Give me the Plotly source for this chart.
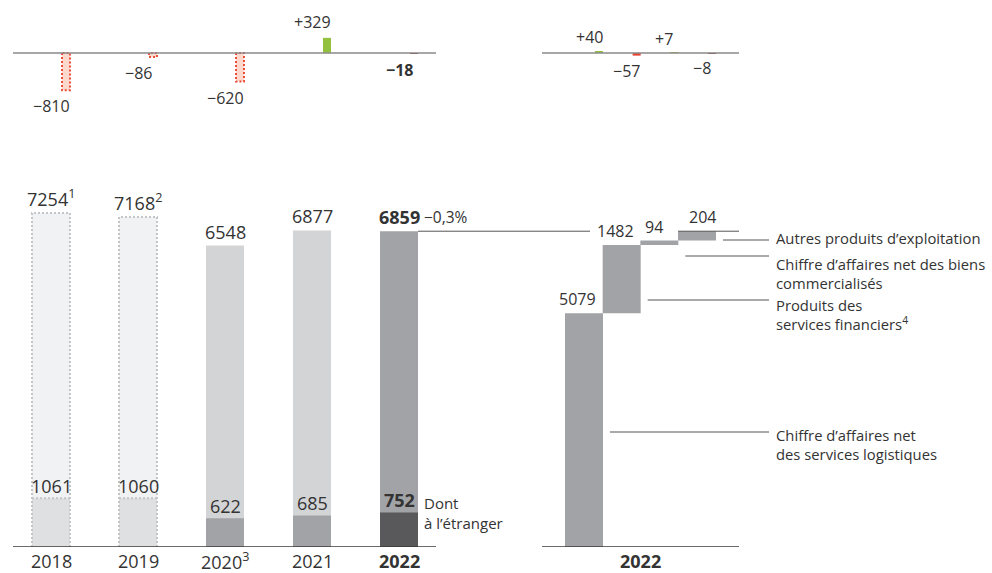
import plotly.graph_objects as go

# ---- data (CHF millions) -------------------------------------------------
years = ["2018", "2019", "2020", "2021", "2022"]
year_labels = ["2018", "2019", "2020<sup>3</sup>", "2021", "<b>2022</b>"]
revenue = [7254, 7168, 6548, 6877, 6859]
revenue_notes = ["1", "2", "", "", ""]
abroad = [1061, 1060, 622, 685, 752]
revenue_change = [-810, -86, -620, 329, -18]
change_pct_latest = "−0,3%"

components = [
    "Chiffre d’affaires net<br>des services logistiques",
    "Produits des<br>services financiers<sup>4</sup>",
    "Chiffre d’affaires net des biens<br>commercialisés",
    "Autres produits d’exploitation",
]
component_values = [5079, 1482, 94, 204]
component_change = [40, -57, 7, -8]

# ---- styling ------------------------------------------------------------
W, H = 992, 573
FONT = "Open Sans"
TXT = "#333333"
SCALE = 0.04604          # pixels per CHF million (shared by every panel)
STEP_L = 87.0            # pixel distance between yearly bars
STEP_R = 37.67           # pixel distance between component bars
BAR_L = 38 / STEP_L
BAR_R = 38 / STEP_R
DELTA_W_L = 8 / STEP_L
DELTA_W_R = 8 / STEP_R
DELTA_OFF_L = 11 / STEP_L
DELTA_OFF_R = 11 / STEP_R

total_colors = ["#f1f2f3", "#f1f2f3", "#d3d4d6", "#d3d4d6", "#a2a3a6"]
abroad_colors = ["#dfe0e1", "#dfe0e1", "#a2a3a6", "#a2a3a6", "#59595c"]
restated = [True, True, False, False, False]
delta_colors = ["#fdd8cc", "#fdd8cc", "#fdd8cc", "#93c13d", "#8a2c24"]
delta_dotted = [True, True, True, False, False]
comp_delta_colors = ["#93c13d", "#e8432f", "#93c13d", "#8a2c24"]
bar_color_r = "#a2a3a6"


def px_x(p):
    return p / W


def px_y(p):
    return 1 - p / H


# pixel frame of each panel
L_X0, L_X1, L_C0 = 13, 436, 51
R_X0, R_X1, R_C0 = 542, 739, 584
BASE_MAIN, TOP_MAIN = 547, 150
BASE_D, D_BOT, D_TOP = 53, 110, 8

xr_left = [(L_X0 - L_C0) / STEP_L, (L_X1 - L_C0) / STEP_L]
xr_right = [(R_X0 - R_C0) / STEP_R, (R_X1 - R_C0) / STEP_R]


def left_px(v):
    return L_C0 + v * STEP_L


def right_px(v):
    return R_C0 + v * STEP_R


fig = go.Figure()
xi = list(range(len(years)))
xj = list(range(len(components)))

# yearly revenue bars and the abroad share inside them
fig.add_trace(go.Bar(x=xi, y=revenue, width=BAR_L, marker=dict(color=total_colors, line=dict(width=0)),
                     xaxis="x", yaxis="y"))
fig.add_trace(go.Bar(x=xi, y=abroad, width=BAR_L, marker=dict(color=abroad_colors, line=dict(width=0)),
                     xaxis="x", yaxis="y"))

# dotted outline for restated years
ox, oy = [], []
for i, (v, a, r) in enumerate(zip(revenue, abroad, restated)):
    if not r:
        continue
    l, rr = i - BAR_L / 2, i + BAR_L / 2
    ox += [l, l, rr, rr, None, l, rr, None]
    oy += [0, v, v, 0, None, a, a, None]
fig.add_trace(go.Scatter(x=ox, y=oy, mode="lines", xaxis="x", yaxis="y",
                         line=dict(color="#c4c5c7", width=2, dash="2px,2px")))

# year-on-year change
fig.add_trace(go.Bar(x=xi, y=revenue_change, width=DELTA_W_L, offset=DELTA_OFF_L,
                     marker=dict(color=delta_colors, line=dict(width=0)), xaxis="x2", yaxis="y2"))
dx, dy = [], []
for i, (v, d) in enumerate(zip(revenue_change, delta_dotted)):
    if not d:
        continue
    l, rr = i + DELTA_OFF_L, i + DELTA_OFF_L + DELTA_W_L
    dx += [l, l, rr, rr, l, None]
    dy += [0, v, v, 0, 0, None]
fig.add_trace(go.Scatter(x=dx, y=dy, mode="lines", xaxis="x2", yaxis="y2",
                         line=dict(color="#ec4e38", width=2, dash="2px,2px")))

# composition of the latest year (waterfall)
bases = []
acc = 0
for v in component_values:
    bases.append(acc)
    acc += v
fig.add_trace(go.Bar(x=xj, y=component_values, base=bases, width=BAR_R,
                     marker=dict(color=bar_color_r, line=dict(width=0)), xaxis="x3", yaxis="y"))
fig.add_trace(go.Bar(x=xj, y=component_change, width=DELTA_W_R, offset=DELTA_OFF_R,
                     marker=dict(color=comp_delta_colors, line=dict(width=0)), xaxis="x4", yaxis="y2"))

ann = []


def label(**kw):
    base = dict(showarrow=False, font=dict(family=FONT, size=18, color=TXT))
    base.update(kw)
    ann.append(base)


def minus(s):
    return s.replace("-", "−")


last = len(years) - 1

# totals above bars
for i, (v, n) in enumerate(zip(revenue, revenue_notes)):
    t = f"{v}" + (f"<sup>{n}</sup>" if n else "")
    if i == last:
        t = f"<b>{t}</b>"
    label(x=i, y=v, xref="x", yref="y", yanchor="bottom", yshift=0, text=t)
# abroad values
for i, v in enumerate(abroad):
    t = f"<b>{v}</b>" if i == last else f"{v}"
    label(x=i, y=v, xref="x", yref="y", yanchor="bottom", yshift=-2, text=t)
label(x=last + BAR_L / 2, y=abroad[last], xref="x", yref="y", xanchor="left", yanchor="middle",
      xshift=4, yshift=-1, align="left", text="Dont<br>à l’étranger",
      font=dict(family=FONT, size=15, color=TXT))
label(x=last + BAR_L / 2, y=revenue[last], xref="x", yref="y", xanchor="left", yanchor="bottom",
      xshift=4, yshift=1, text=change_pct_latest, font=dict(family=FONT, size=15.5, color=TXT))

# change labels
for i, v in enumerate(revenue_change):
    t = minus(f"{v:+d}")
    if i == last:
        t = f"<b>{t}</b>"
    label(x=i, y=v, xref="x2", yref="y2", yanchor="top" if v < 0 else "bottom",
          yshift=-3 if v < 0 else 3, text=t, font=dict(family=FONT, size=16, color=TXT))
for j, v in enumerate(component_change):
    label(x=j, y=v, xref="x4", yref="y2", yanchor="top" if v < 0 else "bottom", xshift=5,
          yshift=-2 if v < 0 else 1, text=minus(f"{v:+d}"), font=dict(family=FONT, size=16, color=TXT))

# component values
comp_xshift = [-7, -6, -5, 5]
for j, v in enumerate(component_values):
    label(x=j, y=bases[j] + v, xref="x3", yref="y", yanchor="bottom", xshift=comp_xshift[j],
          yshift=1, text=f"{v}", font=dict(family=FONT, size=16, color=TXT))

# category labels
YEAR_Y = 561
for i, t in enumerate(year_labels):
    label(x=i, y=px_y(YEAR_Y), xref="x", yref="paper", yanchor="middle", borderpad=0, text=t)
label(x=(len(components) - 1) / 2, y=px_y(YEAR_Y), xref="x3", yref="paper", yanchor="middle",
      borderpad=0, text="<b>2022</b>")

# component names with leader lines
name_top = [424, 294, 253, 227]
leader_y = [432, 300, 256, 240]
shapes = []
for j, name in enumerate(components):
    label(x=px_x(775), y=px_y(name_top[j]), xref="paper", yref="paper", xanchor="left",
          yanchor="top", align="left", text=name, borderpad=0,
          font=dict(family=FONT, size=14.8, color=TXT))
    x0 = right_px(j + BAR_R / 2) + 7
    shapes.append(dict(type="line", xref="paper", yref="paper", x0=px_x(x0), x1=px_x(769),
                       y0=px_y(leader_y[j]), y1=px_y(leader_y[j]), line=dict(color="#555555", width=1)))

# connector from latest total into the composition
total_last = revenue[last]
shapes.append(dict(type="line", xref="paper", yref="y", x0=px_x(left_px(last + BAR_L / 2)),
                   x1=px_x(590), y0=total_last, y1=total_last, line=dict(color="#555555", width=1)))
shapes.append(dict(type="line", xref="paper", yref="y", x0=px_x(right_px(len(components) - 1.5)),
                   x1=px_x(R_X1), y0=total_last, y1=total_last, line=dict(color="#555555", width=1)))

# baselines
for xa, ya, col, w in [("x", "y", "#3a3a3a", 1.5), ("x3", "y", "#3a3a3a", 1.5),
                       ("x2", "y2", "#8a8a8a", 1.6), ("x4", "y2", "#8a8a8a", 1.6)]:
    shapes.append(dict(type="line", xref=f"{xa} domain", yref=ya, x0=0, x1=1, y0=0, y1=0,
                       line=dict(color=col, width=w)))

hidden = dict(visible=False, fixedrange=True)
fig.update_layout(
    width=W, height=H, margin=dict(l=0, r=0, t=0, b=0),
    paper_bgcolor="white", plot_bgcolor="rgba(0,0,0,0)",
    barmode="overlay", showlegend=False, hovermode=False,
    xaxis=dict(domain=[px_x(L_X0), px_x(L_X1)], range=xr_left, anchor="y", **hidden),
    yaxis=dict(domain=[px_y(BASE_MAIN), px_y(TOP_MAIN)], range=[0, (BASE_MAIN - TOP_MAIN) / SCALE],
               anchor="x", **hidden),
    xaxis2=dict(domain=[px_x(L_X0), px_x(L_X1)], range=xr_left, anchor="y2", **hidden),
    yaxis2=dict(domain=[px_y(D_BOT), px_y(D_TOP)], range=[-(D_BOT - BASE_D) / SCALE, (BASE_D - D_TOP) / SCALE],
                anchor="x2", **hidden),
    xaxis3=dict(domain=[px_x(R_X0), px_x(R_X1)], range=xr_right, anchor="y", **hidden),
    xaxis4=dict(domain=[px_x(R_X0), px_x(R_X1)], range=xr_right, anchor="y2", **hidden),
    annotations=ann, shapes=shapes,
)

fig.write_html("out.html")
